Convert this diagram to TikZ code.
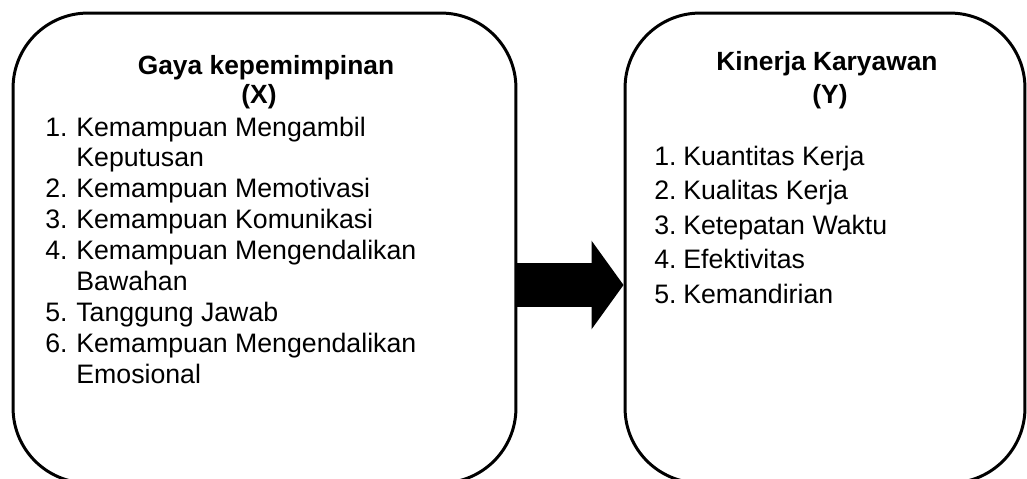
\documentclass[tikz,border=0pt]{standalone}
\usepackage{fontspec}
\setmainfont{Liberation Sans}
\usetikzlibrary{arrows.meta}
\begin{document}
\begin{tikzpicture}
[x=0.02cm,y=-0.02cm,
 boxdecorate/.style={shape=rectangle,draw,line width=1.7pt,rounded corners=1.5cm,inner sep=0pt},
 titledecorate/.style={anchor=base,inner sep=0pt,font=\fontsize{15}{17}\selectfont\bfseries},
 itemdecorate/.style={anchor=base west,inner sep=0pt,font=\fontsize{15.2}{17}\selectfont},
 arrowdecorate/.style={line width=0.88cm,-{Triangle[length=0.64cm,width=1.74cm]}}]
\useasboundingbox (0,0) rectangle (1027,478);
\clip (0,0) rectangle (1027,478);
%% boxes
\node (Gaya) at (264.5,248) [boxdecorate,minimum width=10.06cm,minimum height=9.4cm] {};
\node (Kinerja) at (825,248) [boxdecorate,minimum width=8cm,minimum height=9.4cm] {};
%% titles
\node (GayaTitle) at (266,74) [titledecorate] {Gaya kepemimpinan};
\node (GayaVar) at (259,103) [titledecorate] {(X)};
\node (KinerjaTitle) at (827,70) [titledecorate] {Kinerja Karyawan};
\node (KinerjaVar) at (830,103) [titledecorate] {(Y)};
%% lists
\foreach \num/\txt/\row in {1./Kemampuan Mengambil/0, /Keputusan/1,
  2./Kemampuan Memotivasi/2, 3./Kemampuan Komunikasi/3,
  4./Kemampuan Mengendalikan/4, /Bawahan/5, 5./Tanggung Jawab/6,
  6./Kemampuan Mengendalikan/7, /Emosional/8} {
  \node (gaya\row) at (45,136+30.9*\row) [itemdecorate] {\makebox[0.62cm][l]{\num}\txt};
}
\foreach \num/\txt/\row in {1./Kuantitas Kerja/0, 2./Kualitas Kerja/1,
  3./Ketepatan Waktu/2, 4./Efektivitas/3, 5./Kemandirian/4} {
  \node (kinerja\row) at (654,165+34.5*\row) [itemdecorate] {\makebox[0.58cm][l]{\num}\txt};
}
%% arrow
\draw [arrowdecorate] ([yshift=-0.74cm]Gaya.east) -- ([yshift=-0.74cm]Kinerja.west);
\end{tikzpicture}
\end{document}
